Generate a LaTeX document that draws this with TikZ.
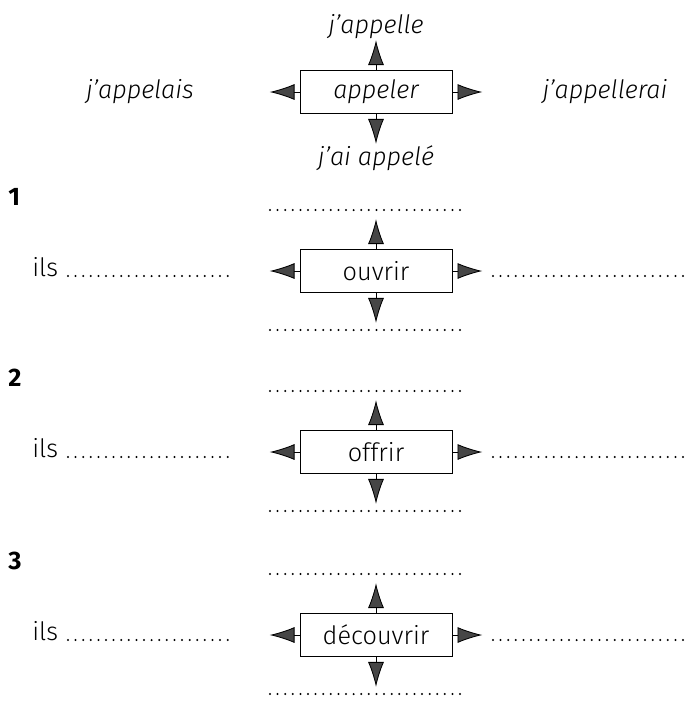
\documentclass[tikz,border=0pt]{standalone}
\usepackage{fontspec}
\setmainfont{Fira Sans}[UprightFont=* Light, ItalicFont=* Light Italic, BoldFont=* Bold]
\usetikzlibrary{arrows.meta,positioning}

\begin{document}
\begin{tikzpicture}[
    x=0.025cm, y=-0.025cm,
    node distance=0.75cm,
    verb/.style={draw, thin, minimum width=3.8cm, minimum height=1.075cm, font=\fontsize{18}{21}\selectfont},
    form/.style={font=\fontsize{18}{21}\selectfont\itshape, inner sep=1pt},
    word/.style={font=\fontsize{18}{21}\selectfont, inner sep=0pt},
    num/.style={font=\fontsize{18}{21}\selectfont\bfseries, inner sep=0pt},
    arr/.style={-{Latex[length=0.62cm, width=0.4cm, fill=gray!55!black]}, draw=black, semithick},
    blank/.style={line width=1.6pt, dash pattern=on 0pt off 0.19cm, line cap=round}
]
\useasboundingbox (0,0) rectangle (691,705);

% --- model verb ---
\node[verb, font=\fontsize{18}{21}\selectfont\itshape] (b0) at (376,92) {appeler};
\coordinate[above=of b0.north] (b0n);
\coordinate[below=of b0.south] (b0s);
\coordinate[left=of b0.west] (b0w);
\coordinate[right=of b0.east] (b0e);
\draw[arr] (b0.north) -- (b0n);
\draw[arr] (b0.south) -- (b0s);
\draw[arr] (b0.west) -- (b0w);
\draw[arr] (b0.east) -- (b0e);
\node[form, above=0pt of b0n] (pres) {j'appelle};
\node[form, below=0pt of b0s] (pc) {j'ai appelé};
\node[form] (imp) at (140,92) {j'appelais};
\node[form] (fut) at (605,92) {j'appellerai};

% --- exercise rows ---
\foreach \n/\v/\y in {1/ouvrir/271, 2/offrir/452, 3/découvrir/635} {
  \node[verb] (b\n) at (376,\y) {\v};
  \coordinate[above=of b\n.north] (b\n n);
  \coordinate[below=of b\n.south] (b\n s);
  \coordinate[left=of b\n.west] (b\n w);
  \coordinate[right=of b\n.east] (b\n e);
  \draw[arr] (b\n.north) -- (b\n n);
  \draw[arr] (b\n.south) -- (b\n s);
  \draw[arr] (b\n.west) -- (b\n w);
  \draw[arr] (b\n.east) -- (b\n e);
  \node[num, anchor=base west] (n\n) at (8,\y-66) {\n};
  \node[word, anchor=base west] (ils\n) at (32,\y+5) {ils};
  \draw[blank] (68,\y+5) -- (230,\y+5);
  \draw[blank] (493,\y+5) -- (690,\y+5);
  \draw[blank] (270,\y-61) -- (466,\y-61);
  \draw[blank] (270,\y+59) -- (466,\y+59);
}
\end{tikzpicture}
\end{document}
